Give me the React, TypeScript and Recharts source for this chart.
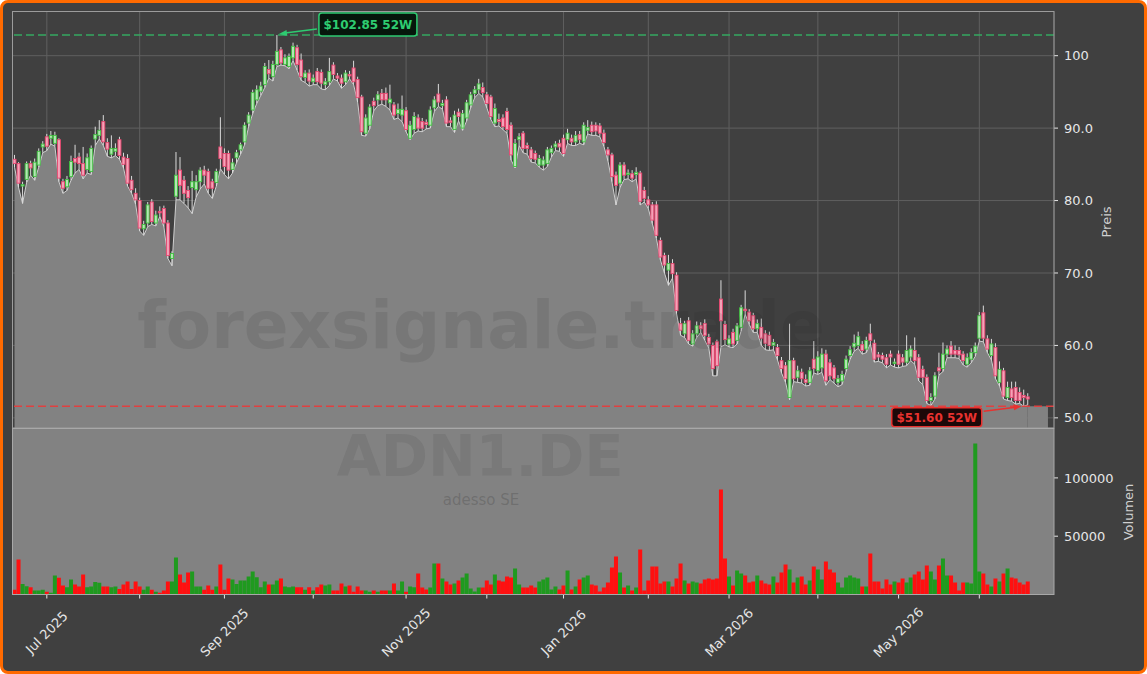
import React from "react";
import {
  ComposedChart,
  BarChart,
  Bar,
  Area,
  XAxis,
  YAxis,
  CartesianGrid,
  ReferenceLine,
  ReferenceDot,
  ReferenceArea,
  Cell,
} from "recharts";

// daily candles, one per trading day (index 0 = 19 Jun 2025)
const opens = [
  85.7, 85.1, 82.0, 82.9, 85.1, 83.3, 84.9, 87.4, 88.8, 88.6, 87.9, 88.4, 82.6, 81.9, 83.3, 85.8, 86.0, 85.1, 84.3, 84.0,
  88.5, 89.0, 90.9, 88.0, 86.4, 86.8, 88.4, 86.0, 85.8, 82.8, 81.0, 80.0, 76.1, 76.9, 79.8, 76.9, 78.5, 78.9, 76.9, 72.0,
  80.6, 84.2, 82.8, 81.4, 81.8, 81.5, 82.6, 84.2, 84.0, 82.6, 82.5, 87.4, 86.5, 86.5, 84.3, 85.9, 87.0, 88.1, 90.7, 92.5,
  93.9, 95.1, 96.0, 98.1, 97.1, 98.8, 100.8, 98.8, 98.5, 99.7, 101.1, 99.4, 97.0, 97.6, 96.4, 97.8, 97.7, 96.0, 96.4, 98.7,
  97.2, 96.9, 96.4, 97.4, 98.3, 96.7, 94.3, 89.3, 90.4, 93.7, 93.9, 94.8, 94.8, 93.5, 93.2, 92.0, 91.8, 92.4, 88.6, 89.8,
  91.4, 90.9, 90.8, 90.4, 92.8, 94.7, 93.1, 93.9, 91.0, 89.8, 92.2, 90.0, 91.4, 93.2, 94.8, 95.3, 95.6, 94.6, 94.3, 90.7,
  91.2, 91.4, 92.3, 90.4, 84.7, 88.4, 89.3, 87.6, 87.0, 86.5, 84.9, 84.9, 85.1, 86.6, 87.4, 87.9, 88.6, 88.4, 88.6, 88.1,
  89.1, 88.1, 89.7, 90.4, 90.4, 90.3, 89.3, 87.0, 86.3, 83.5, 82.4, 84.9, 83.6, 83.7, 83.6, 83.8, 81.4, 80.1, 79.4, 79.4,
  74.5, 72.4, 70.4, 71.3, 69.7, 63.0, 61.6, 63.4, 60.2, 61.6, 62.7, 63.0, 61.1, 60.0, 60.5, 66.4, 62.9, 60.2, 61.8, 60.7,
  62.5, 65.0, 64.6, 64.1, 62.3, 62.5, 61.6, 61.4, 60.0, 59.7, 57.9, 57.2, 52.8, 57.9, 55.6, 56.3, 55.3, 54.9, 58.1, 56.5,
  56.9, 58.8, 57.6, 56.9, 54.9, 55.1, 56.8, 58.6, 59.8, 60.0, 60.1, 59.5, 61.6, 60.3, 58.7, 58.6, 58.3, 58.8, 57.5, 58.8,
  58.3, 57.7, 58.4, 59.3, 58.3, 56.7, 55.6, 52.4, 53.0, 56.9, 56.8, 58.8, 59.9, 59.3, 59.3, 58.8, 57.4, 58.1, 59.0, 61.0,
  64.5, 60.9, 58.6, 59.7, 54.9, 56.5, 52.8, 54.0, 54.2, 53.5, 53.1, 52.9,
];
const highs = [
  86.3, 85.3, 82.6, 85.4, 85.5, 85.8, 87.2, 88.2, 89.2, 89.6, 89.5, 88.6, 83.0, 83.4, 86.2, 87.7, 86.6, 87.4, 86.5, 87.6,
  90.2, 91.1, 91.8, 88.6, 89.0, 87.9, 88.8, 86.6, 86.4, 83.4, 81.7, 80.4, 77.2, 79.8, 80.2, 78.6, 79.2, 79.3, 77.3, 73.0,
  86.7, 86.0, 83.4, 82.0, 84.1, 83.5, 84.6, 84.8, 84.4, 83.0, 84.4, 91.5, 87.2, 86.9, 85.8, 87.0, 88.0, 90.8, 92.2, 95.3,
  95.9, 96.4, 99.0, 99.4, 99.3, 102.85, 101.2, 100.2, 100.3, 101.8, 101.5, 100.3, 98.0, 98.1, 97.4, 98.3, 98.1, 96.9, 99.7, 99.1,
  97.6, 97.4, 98.0, 97.9, 99.3, 97.1, 94.6, 91.9, 93.3, 94.2, 95.1, 95.4, 95.6, 96.0, 93.6, 93.4, 94.5, 92.9, 91.0, 92.2,
  91.9, 91.4, 91.2, 93.0, 94.4, 96.1, 93.9, 94.4, 91.5, 92.4, 92.7, 92.5, 93.9, 95.0, 95.8, 96.8, 96.3, 95.0, 94.6, 93.4,
  92.0, 91.9, 92.8, 90.8, 88.5, 89.3, 89.6, 88.0, 87.4, 86.9, 86.3, 86.1, 87.4, 87.6, 88.2, 88.4, 89.1, 89.9, 89.1, 89.6,
  89.6, 90.8, 91.1, 90.9, 90.8, 90.7, 89.8, 87.4, 86.6, 84.0, 85.3, 85.3, 84.3, 84.2, 84.6, 84.1, 81.9, 80.6, 79.8, 79.9,
  74.9, 72.8, 72.5, 71.9, 70.1, 63.8, 63.4, 63.9, 62.1, 63.3, 63.2, 63.6, 61.6, 60.4, 60.8, 69.0, 63.4, 61.4, 62.3, 63.1,
  65.6, 67.6, 65.0, 64.5, 63.6, 63.7, 62.1, 61.9, 60.9, 60.2, 58.4, 57.7, 63.0, 58.3, 57.2, 56.8, 56.0, 57.0, 60.6, 59.2,
  59.6, 59.4, 58.1, 57.3, 55.9, 56.5, 58.6, 59.9, 61.5, 61.9, 60.6, 61.2, 63.0, 60.8, 59.1, 59.0, 58.8, 59.3, 58.2, 59.3,
  58.8, 61.4, 60.0, 61.1, 58.8, 57.2, 56.0, 53.4, 56.3, 59.0, 60.4, 60.0, 60.6, 60.0, 59.8, 59.2, 58.9, 59.6, 60.4, 64.6,
  65.5, 61.4, 60.9, 60.3, 57.8, 56.9, 55.0, 55.0, 55.0, 54.2, 53.9, 53.4,
];
const lows = [
  84.6, 81.8, 79.6, 82.5, 83.5, 82.8, 84.6, 86.6, 86.9, 87.8, 87.5, 82.6, 81.0, 81.4, 82.8, 83.8, 84.3, 83.0, 83.8, 83.6,
  87.6, 88.5, 87.6, 86.1, 85.9, 86.2, 85.7, 84.5, 82.0, 81.0, 79.5, 75.8, 75.2, 76.4, 76.7, 76.5, 77.8, 76.4, 72.0, 71.0,
  80.1, 80.1, 79.6, 79.0, 78.2, 80.5, 81.6, 82.3, 81.0, 80.3, 82.0, 84.4, 83.6, 83.0, 83.8, 85.2, 86.4, 87.7, 90.2, 92.0,
  93.4, 94.5, 95.6, 96.9, 96.5, 98.5, 98.7, 98.6, 98.2, 99.3, 98.0, 96.6, 96.3, 95.8, 96.0, 96.0, 95.4, 95.3, 95.9, 96.8,
  96.5, 95.5, 96.0, 96.8, 96.0, 93.6, 89.0, 88.9, 89.9, 92.4, 93.1, 93.3, 93.0, 92.5, 91.2, 91.4, 90.9, 89.5, 88.4, 89.3,
  89.6, 89.5, 89.9, 90.0, 92.3, 93.0, 92.6, 90.2, 90.2, 89.4, 91.0, 89.7, 91.0, 92.8, 94.2, 94.8, 94.3, 92.8, 91.2, 90.2,
  90.3, 89.8, 89.3, 85.6, 84.5, 87.6, 86.6, 86.4, 85.3, 85.2, 84.6, 84.2, 84.7, 86.0, 86.9, 86.8, 86.1, 87.9, 87.6, 87.6,
  87.9, 87.7, 89.2, 89.0, 89.0, 88.8, 87.5, 85.5, 82.6, 79.4, 81.8, 82.9, 83.0, 82.6, 83.0, 79.4, 79.8, 78.9, 76.8, 74.8,
  71.8, 70.0, 68.3, 69.3, 64.4, 61.4, 61.1, 60.2, 59.9, 61.1, 61.8, 60.7, 59.6, 55.8, 55.8, 59.8, 60.1, 59.8, 59.7, 60.2,
  62.0, 64.3, 62.9, 61.8, 61.8, 60.0, 59.4, 59.3, 59.4, 58.0, 56.2, 54.9, 52.5, 55.0, 54.9, 54.8, 54.4, 54.5, 56.2, 56.0,
  56.3, 54.5, 55.3, 54.8, 54.3, 54.6, 56.4, 58.1, 59.2, 59.6, 58.8, 59.0, 60.2, 57.7, 57.8, 57.6, 56.9, 57.3, 57.0, 56.9,
  57.1, 57.2, 57.9, 57.4, 55.1, 54.6, 52.0, 51.7, 52.6, 55.9, 56.4, 58.3, 58.3, 58.3, 58.2, 57.3, 57.0, 57.6, 58.5, 60.6,
  60.5, 59.0, 58.0, 55.4, 54.4, 52.6, 52.4, 52.3, 51.9, 52.0, 51.6, 51.8,
];
const closes = [
  85.1, 82.4, 82.2, 85.1, 84.5, 85.3, 86.8, 87.8, 87.5, 89.0, 89.0, 83.1, 81.7, 82.9, 85.4, 85.3, 85.1, 83.5, 85.9, 87.2,
  89.1, 89.7, 88.1, 87.1, 87.2, 87.2, 86.2, 85.0, 82.4, 81.5, 80.1, 76.2, 76.7, 79.4, 77.1, 78.0, 78.3, 76.9, 72.4, 72.7,
  83.5, 82.1, 81.0, 80.4, 82.6, 82.6, 84.2, 83.5, 81.7, 81.7, 84.0, 85.8, 84.7, 84.2, 85.2, 86.6, 87.7, 90.4, 91.8, 94.9,
  95.3, 95.8, 98.5, 97.5, 98.8, 100.6, 99.0, 99.7, 99.9, 101.3, 98.8, 97.1, 97.6, 96.5, 96.9, 96.4, 96.2, 96.4, 97.8, 97.4,
  96.9, 96.2, 97.6, 97.2, 96.4, 94.2, 89.5, 91.4, 92.9, 93.1, 94.6, 93.9, 93.9, 94.0, 91.8, 92.6, 92.6, 89.8, 90.4, 91.6,
  90.0, 90.0, 90.5, 92.5, 93.9, 93.6, 93.4, 90.7, 90.8, 91.8, 91.6, 92.0, 93.5, 94.6, 95.3, 96.1, 94.9, 93.4, 91.6, 92.7,
  90.9, 90.2, 89.8, 86.3, 87.9, 88.8, 87.2, 87.2, 85.8, 85.7, 85.8, 85.6, 87.0, 87.2, 87.8, 87.4, 86.5, 89.3, 88.1, 89.0,
  88.4, 90.4, 90.1, 89.5, 89.6, 89.3, 88.0, 86.3, 83.3, 82.1, 84.9, 83.5, 83.8, 83.1, 83.9, 79.9, 80.3, 79.4, 77.3, 75.2,
  72.2, 71.1, 71.3, 69.9, 64.8, 62.1, 63.0, 60.7, 61.6, 62.7, 62.3, 61.4, 60.2, 56.8, 57.2, 63.4, 60.8, 60.9, 60.2, 62.7,
  65.2, 64.8, 63.4, 62.3, 63.0, 61.0, 60.3, 60.0, 60.4, 58.6, 56.8, 55.4, 57.9, 55.4, 56.5, 55.4, 54.9, 56.5, 56.8, 58.4,
  58.8, 55.1, 55.8, 55.4, 55.4, 56.0, 58.1, 59.4, 60.3, 61.2, 59.3, 60.7, 60.7, 58.1, 58.4, 58.1, 57.4, 58.4, 57.7, 57.4,
  57.7, 59.3, 59.5, 57.9, 55.6, 55.6, 52.4, 52.8, 55.8, 56.5, 58.8, 59.5, 58.8, 58.8, 58.7, 57.9, 58.3, 59.0, 59.9, 64.1,
  61.0, 59.5, 60.2, 55.8, 56.7, 53.0, 54.2, 52.8, 52.4, 52.4, 52.8, 52.6,
];
const volumes = [
  4000, 30000, 9000, 7000, 6300, 3400, 3400, 4000, 2300, 1400, 16300, 14300, 7700, 6300, 12800, 8600, 6800, 17100, 6300, 6800,
  10800, 10000, 6800, 6800, 6300, 6800, 4800, 8600, 11100, 4800, 11100, 6800, 4000, 6800, 4000, 2300, 1400, 3400, 11100, 11100,
  31700, 17100, 10300, 18800, 19700, 6800, 6800, 4000, 7700, 4000, 6800, 25700, 4000, 13700, 12800, 9100, 12000, 12000, 15400, 19700,
  14800, 6300, 11100, 8600, 8600, 12000, 13700, 6800, 6300, 6800, 6300, 6300, 4000, 6300, 3400, 6300, 8600, 7700, 8600, 3400,
  3400, 9400, 6800, 7700, 2300, 6800, 3400, 3400, 2300, 3400, 2300, 3400, 3400, 3400, 9400, 3400, 11100, 2300, 6800, 6300,
  18000, 6000, 4300, 6000, 26500, 26500, 13700, 11100, 8600, 9400, 12000, 14600, 18000, 5100, 2600, 6000, 6000, 12000, 8600, 17100,
  12000, 11100, 15400, 14600, 22300, 8600, 6000, 6000, 7700, 6000, 11100, 12800, 14600, 4300, 6800, 4300, 7700, 20600, 4300, 6800,
  12800, 14600, 16300, 8600, 7700, 2600, 6000, 10300, 23100, 32500, 18800, 6000, 7700, 3400, 6000, 38500, 3400, 12000, 24000, 24000,
  9400, 11100, 11100, 6800, 13700, 26500, 12000, 9400, 11100, 10300, 9400, 12800, 13700, 12800, 13700, 90000, 30800, 15400, 7700, 20600,
  18000, 16300, 10300, 11100, 16300, 12000, 9400, 8600, 15400, 10300, 18800, 25700, 21400, 10300, 14600, 15400, 8600, 12000, 24000, 21400,
  12800, 28200, 21400, 18800, 10300, 6000, 14600, 16300, 14600, 13700, 6800, 6800, 35100, 11100, 11100, 5100, 12800, 8600, 11100, 10300,
  13700, 10300, 14600, 17100, 19700, 12800, 24800, 19700, 12800, 24800, 30800, 16300, 16300, 10300, 3400, 10300, 10300, 9400, 129600, 19700,
  18000, 8600, 6800, 13700, 11100, 18000, 22300, 14600, 13700, 10300, 8600, 11100,
];

// first trading day of each month, as candle index
const monthTicks = [8, 31, 52, 74, 97, 117, 136, 157, 177, 199, 219, 239];
const monthLabels = ["Jul 2025", "", "Sep 2025", "", "Nov 2025", "", "Jan 2026", "", "Mar 2026", "", "May 2026", ""];
const priceTicks = [50, 60, 70, 80, 90, 100];
const priceTickLabels = ["50.0", "60.0", "70.0", "80.0", "90.0", "100"];
const volumeTicks = [50000, 100000];

const ticker = "ADN1.DE";
const company = "adesso SE";
const brand = "forexsignale.trade";

const FONT = "DejaVu Sans";
const SLOTS = 258;
const xDomain = [-0.5, SLOTS - 0.5];
const priceDomain = [48.6, 106.1];
const volumeDomain = [0, 142800];

const candles = opens.map((open, i) => ({
  i,
  open,
  high: highs[i],
  low: lows[i],
  close: closes[i],
  volume: volumes[i],
}));

const high52 = Math.max(...highs);
const low52 = Math.min(...lows);
const hiIdx = highs.indexOf(high52);
const loIdx = lows.indexOf(low52);

const UP_EDGE = "#3fbf3f";
const UP_FILL = "#b4e6b4";
const DN_EDGE = "#e8456f";
const DN_FILL = "#f3a3b8";
const GREEN = "#2ecc71";
const RED = "#e8322f";

function Candle(props: any) {
  const { x, y, width, height, payload } = props;
  if (!payload) return null;
  const { open, close, high, low } = payload;
  const top = Math.min(y, y + height);
  const h = Math.abs(height);
  const k = high === low ? 0 : h / (high - low);
  const cx = x + width / 2;
  const yOf = (v: number) => top + (high - v) * k;
  const up = close >= open;
  const bodyTop = yOf(Math.max(open, close));
  const bodyH = Math.max(1, yOf(Math.min(open, close)) - bodyTop);
  return (
    <g>
      <line x1={cx} x2={cx} y1={top} y2={top + h} stroke="#dadada" strokeWidth={1} />
      <rect
        x={cx - 1.5}
        y={bodyTop}
        width={3}
        height={bodyH}
        fill={up ? UP_FILL : DN_FILL}
        stroke={up ? UP_EDGE : DN_EDGE}
        strokeWidth={0.9}
      />
    </g>
  );
}

function HighNote(props: any) {
  const { cx, cy } = props;
  const bx = cx + 42;
  const by = cy - 22;
  return (
    <g>
      <line x1={cx + 40} y1={cy - 6} x2={cx + 8} y2={cy - 2} stroke={GREEN} strokeWidth={1.6} />
      <polygon points={`${cx + 2},${cy - 1} ${cx + 10.4},${cy + 1} ${cx + 9.6},${cy - 5}`} fill={GREEN} />
      <rect x={bx} y={by} width={98} height={23} rx={3} fill="#06170c" stroke={GREEN} strokeWidth={1.5} />
      <text
        x={bx + 49}
        y={by + 12}
        textAnchor="middle"
        dominantBaseline="central"
        fill={GREEN}
        fontSize={12}
        fontWeight="bold"
        fontFamily={FONT}
      >
        {`$${high52.toFixed(2)} 52W`}
      </text>
    </g>
  );
}

function LowNote(props: any) {
  const { cx, cy } = props;
  const bx = cx - 132;
  const by = cy + 1.5;
  return (
    <g>
      <line x1={cx - 40} y1={cy + 5} x2={cx - 8} y2={cy + 1} stroke={RED} strokeWidth={1.6} />
      <polygon points={`${cx - 2},${cy} ${cx - 10.4},${cy - 2} ${cx - 9.6},${cy + 4}`} fill={RED} />
      <rect x={bx} y={by} width={90} height={19} rx={3} fill="#1c0808" stroke={RED} strokeWidth={1.5} />
      <text
        x={bx + 45}
        y={by + 10}
        textAnchor="middle"
        dominantBaseline="central"
        fill={RED}
        fontSize={12}
        fontWeight="bold"
        fontFamily={FONT}
      >
        {`$${low52.toFixed(2)} 52W`}
      </text>
    </g>
  );
}

function MonthTick(props: any) {
  const { x, y, payload } = props;
  const label = monthLabels[monthTicks.indexOf(payload.value)];
  if (!label) return null;
  const cy = y + 32;
  return (
    <text
      x={x}
      y={cy}
      transform={`rotate(-45, ${x}, ${cy})`}
      textAnchor="middle"
      dominantBaseline="central"
      fill="#e6e6e6"
      fontSize={13}
      fontFamily={FONT}
    >
      {label}
    </text>
  );
}

const axisTick = { fill: "#e6e6e6", fontSize: 13, fontFamily: FONT };

export default function App() {
  return (
    <div style={{ position: "absolute", left: 0, top: 0, width: 1147, height: 674, overflow: "hidden", background: "#fff" }}>
      <div
        style={{
          position: "absolute",
          inset: 0,
          boxSizing: "border-box",
          border: "3px solid #ff6a00",
          borderRadius: 8,
          background: "#404040",
        }}
      />

      {/* price panel */}
      <div style={{ position: "absolute", left: 0, top: 0 }}>
        <ComposedChart width={1147} height={440} data={candles} margin={{ top: 11.5, right: 33, bottom: 12, left: 12.5 }}>
          <CartesianGrid stroke="#5f5f5f" strokeWidth={1} />
          <XAxis type="number" dataKey="i" domain={xDomain} ticks={monthTicks} allowDataOverflow hide />
          <YAxis
            orientation="right"
            type="number"
            domain={priceDomain}
            ticks={priceTicks}
            allowDataOverflow
            width={60}
            tickFormatter={(v: number) => priceTickLabels[priceTicks.indexOf(v)]}
            tick={axisTick}
            tickLine={{ stroke: "#e6e6e6" }}
            tickSize={4}
            tickMargin={6}
            axisLine={false}
          />
          <Area
            dataKey="low"
            type="linear"
            stroke="#cfcfcf"
            strokeWidth={1}
            fill="#828282"
            fillOpacity={1}
            baseValue={priceDomain[0]}
            dot={false}
            activeDot={false}
            isAnimationActive={false}
          />
          <ReferenceArea
            x1={candles.length - 1}
            x2={SLOTS - 2}
            y1={priceDomain[0]}
            y2={low52}
            fill="#828282"
            fillOpacity={1}
            stroke="none"
          />
          <Bar
            dataKey={(d: any) => [d.low, d.high]}
            barSize={4}
            shape={<Candle />}
            isAnimationActive={false}
          />
          <ReferenceLine y={high52} stroke="#35a860" strokeWidth={1.5} strokeDasharray="8 4" />
          <ReferenceLine y={low52} stroke="#e04040" strokeWidth={1.5} strokeDasharray="8 4" />
          <ReferenceDot x={hiIdx} y={high52} r={0} shape={(p: any) => <HighNote {...p} />} />
          <ReferenceDot x={loIdx} y={low52} r={0} shape={(p: any) => <LowNote {...p} />} />
        </ComposedChart>
      </div>

      {/* volume panel */}
      <div style={{ position: "absolute", left: 0, top: 420 }}>
        <BarChart width={1147} height={254} data={candles} margin={{ top: 8, right: 33, bottom: 19.5, left: 12.5 }}>
          <CartesianGrid fill="#828282" fillOpacity={1} horizontal={false} vertical={false} />
          <XAxis
            type="number"
            dataKey="i"
            domain={xDomain}
            ticks={monthTicks}
            allowDataOverflow
            interval={0}
            height={60}
            tick={<MonthTick />}
            tickLine={{ stroke: "#e6e6e6" }}
            tickSize={4}
            axisLine={false}
          />
          <YAxis
            orientation="right"
            type="number"
            domain={volumeDomain}
            ticks={volumeTicks}
            allowDataOverflow
            width={60}
            tick={axisTick}
            tickLine={{ stroke: "#e6e6e6" }}
            tickSize={4}
            tickMargin={6}
            axisLine={false}
          />
          <Bar dataKey="volume" barSize={4} isAnimationActive={false}>
            {candles.map((c) => (
              <Cell key={c.i} fill={c.close >= c.open ? "#1f9a1f" : "#ff1010"} />
            ))}
          </Bar>
        </BarChart>
      </div>

      {/* frames, axis titles and watermarks */}
      <svg width={1147} height={674} style={{ position: "absolute", left: 0, top: 0, pointerEvents: "none" }}>
        <rect x={12.5} y={11.5} width={1041.5} height={416.5} fill="none" stroke="#9c9c9c" strokeWidth={1} />
        <rect x={12.5} y={428.5} width={1041.5} height={166} fill="none" stroke="#a8a8a8" strokeWidth={1} />
        <text
          x={481}
          y={348}
          textAnchor="middle"
          fontSize={66}
          fontWeight="bold"
          fontFamily={FONT}
          fill="#202020"
          fillOpacity={0.1}
        >
          {brand}
        </text>
        <text
          x={480}
          y={476}
          textAnchor="middle"
          fontSize={57}
          fontWeight="bold"
          fontFamily={FONT}
          fill="#202020"
          fillOpacity={0.09}
        >
          {ticker}
        </text>
        <text x={481} y={505} textAnchor="middle" fontSize={15} fontFamily={FONT} fill="#202020" fillOpacity={0.2}>
          {company}
        </text>
        <text
          x={1106}
          y={222}
          transform="rotate(-90, 1106, 222)"
          textAnchor="middle"
          dominantBaseline="central"
          fontSize={13}
          fontFamily={FONT}
          fill="#d0d0d0"
        >
          Preis
        </text>
        <text
          x={1128}
          y={512}
          transform="rotate(-90, 1128, 512)"
          textAnchor="middle"
          dominantBaseline="central"
          fontSize={13}
          fontFamily={FONT}
          fill="#d0d0d0"
        >
          Volumen
        </text>
      </svg>
    </div>
  );
}
